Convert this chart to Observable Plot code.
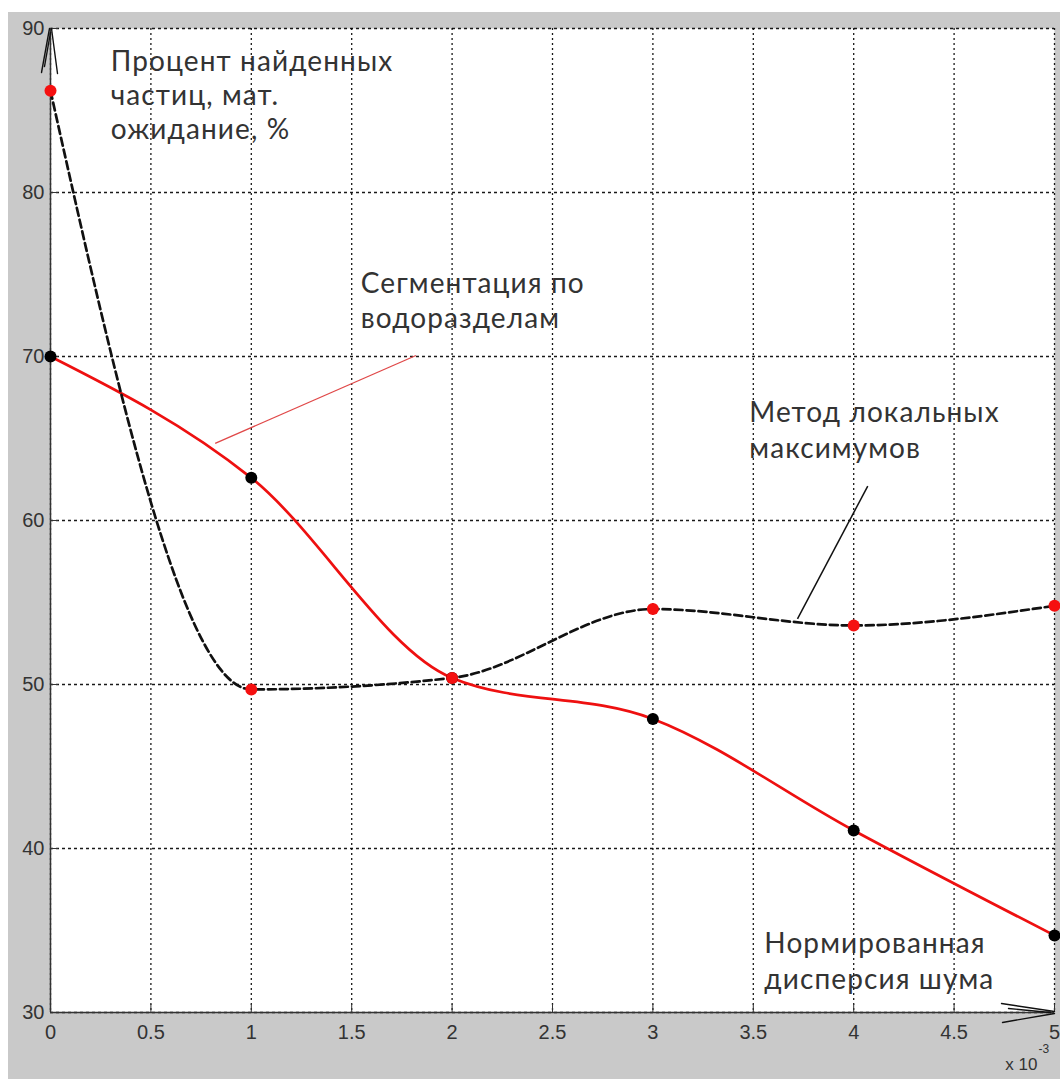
<!DOCTYPE html>
<html>
<head>
<meta charset="utf-8">
<script src="https://cdn.jsdelivr.net/npm/d3@7"></script>
<script src="https://cdn.jsdelivr.net/npm/@observablehq/plot@0.6"></script>
<style>
  html, body { margin: 0; padding: 0; background: #ffffff; }
  #bg { position: absolute; left: 8px; top: 12px; width: 1052px; height: 1067px; background: #c9c9c9; }
  #chart { position: absolute; left: 0; top: 0; }
</style>
</head>
<body>
<div id="bg"></div>
<div id="chart"></div>
<script>
// Noise variance (x 10^-3)
const noise = [0, 1, 2, 3, 4, 5];
// Watershed segmentation (red solid line, black markers), %
const watershed = [70.0, 62.6, 50.4, 47.9, 41.1, 34.7];
// Local maxima method (black dashed line, red markers), %
const localMax = [86.2, 49.7, 50.4, 54.6, 53.6, 54.8];

const xTicks = [0, 0.5, 1, 1.5, 2, 2.5, 3, 3.5, 4, 4.5, 5];
const yTicks = [30, 40, 50, 60, 70, 80, 90];

// Annotation texts and their anchor positions (data coordinates)
const titleLabel = [{x: 0.30, y: 88.85, text: "Процент найденных\nчастиц, мат.\nожидание, %"}];
const curveLabels = [
  {x: 1.545, y: 75.45, text: "Сегментация по\nводоразделам"},
  {x: 3.48, y: 67.55, text: "Метод локальных\nмаксимумов"},
  {x: 3.555, y: 35.17, text: "Нормированная\nдисперсия шума"}
];
// Leader lines
const redLeader = [{x1: 0.82, y1: 64.7, x2: 1.82, y2: 70.06}];
const blackLeader = [{x1: 4.07, y1: 62.1, x2: 3.72, y2: 54.0}];

const wsData = noise.map((x, i) => ({x, y: watershed[i]}));
const lmData = noise.map((x, i) => ({x, y: localMax[i]}));

const arrowUp = {draw(ctx) { ctx.moveTo(-9, 44); ctx.lineTo(-1, 0); ctx.moveTo(1, 0); ctx.lineTo(7, 45); ctx.moveTo(-6, 38); ctx.lineTo(0, 4); }};
const arrowRight = {draw(ctx) { ctx.moveTo(-53, -9); ctx.lineTo(0, -1); ctx.moveTo(0, 1); ctx.lineTo(-52, 10); ctx.moveTo(-46, -4); ctx.lineTo(-4, 0); }};

const annotationStyle = {x: "x", y: "y", text: "text", textAnchor: "start", lineAnchor: "top", fontSize: 28, fill: "#333", fontFamily: "Lato, 'Open Sans', sans-serif"};

const chart = Plot.plot({
  width: 1060,
  height: 1079,
  marginLeft: 50,
  marginRight: 6,
  marginTop: 28,
  marginBottom: 67,
  style: {background: "transparent", overflow: "visible", fontFamily: "'Liberation Sans', Arial, sans-serif", fontSize: "20px"},
  x: {domain: [0, 5], axis: null},
  y: {domain: [30, 90], axis: null},
  marks: [
    Plot.frame({fill: "white", stroke: "none"}),
    Plot.gridX({ticks: xTicks, stroke: "#000", strokeOpacity: 0.9, strokeDasharray: "2,3", strokeWidth: 1.3}),
    Plot.gridY({ticks: yTicks, stroke: "#000", strokeOpacity: 0.9, strokeDasharray: "3,3", strokeWidth: 1.3}),
    Plot.ruleX([0], {stroke: "#333", strokeWidth: 1.5}),
    Plot.ruleY([30], {stroke: "#333", strokeWidth: 1.5}),
    Plot.axisX({ticks: xTicks, anchor: "bottom", tickSize: 8, dy: -8, tickFormat: () => "", stroke: "#333"}),
    Plot.axisY({ticks: yTicks, anchor: "left", tickSize: 8, dx: 8, tickFormat: () => "", stroke: "#333"}),
    Plot.axisX({ticks: xTicks, anchor: "bottom", tickSize: 0, tickPadding: 12, tickFormat: d => String(d), fontSize: 20, fill: "#333"}),
    Plot.axisY({ticks: yTicks, anchor: "left", tickSize: 0, tickPadding: 6, tickFormat: d => String(d), fontSize: 20, fill: "#333"}),
    Plot.text(["x 10"], {frameAnchor: "bottom-right", textAnchor: "end", dx: -17, dy: 57, fontSize: 17, fill: "#333"}),
    Plot.text(["-3"], {frameAnchor: "bottom-right", textAnchor: "start", dx: -16, dy: 40, fontSize: 12, fill: "#333"}),
    // leader lines
    Plot.link(redLeader, {x1: "x1", y1: "y1", x2: "x2", y2: "y2", stroke: "#e04848", strokeWidth: 1.3}),
    Plot.link(blackLeader, {x1: "x1", y1: "y1", x2: "x2", y2: "y2", stroke: "#111", strokeWidth: 1.5}),
    // curves
    Plot.line(wsData, {x: "x", y: "y", curve: "monotone-x", stroke: "#ee1010", strokeWidth: 2.7}),
    Plot.line(lmData, {x: "x", y: "y", curve: "monotone-x", stroke: "#111", strokeWidth: 2.7, strokeDasharray: "8,4"}),
    Plot.dot(wsData, {x: "x", y: "y", r: 6, fill: "#000", stroke: "none"}),
    Plot.dot(lmData, {x: "x", y: "y", r: 6, fill: "#f51010", stroke: "none"}),
    // axis arrows
    Plot.vector([{x: 0, y: 90}], {x: "x", y: "y", shape: arrowUp, anchor: "start", length: 45, stroke: "#111", strokeWidth: 1.4}),
    Plot.vector([{x: 5, y: 30}], {x: "x", y: "y", shape: arrowRight, anchor: "start", length: 45, stroke: "#111", strokeWidth: 1.4}),
    // annotations
    Plot.text(titleLabel, {...annotationStyle, lineHeight: 1.21}),
    Plot.text(curveLabels, {...annotationStyle, lineHeight: 1.28})
  ]
});
// widen the annotation lettering slightly (Calibri-like spacing)
d3.select(chart).selectAll("g[font-family^='Lato']").style("letter-spacing", "1.1px");
document.getElementById("chart").appendChild(chart);
</script>
</body>
</html>
